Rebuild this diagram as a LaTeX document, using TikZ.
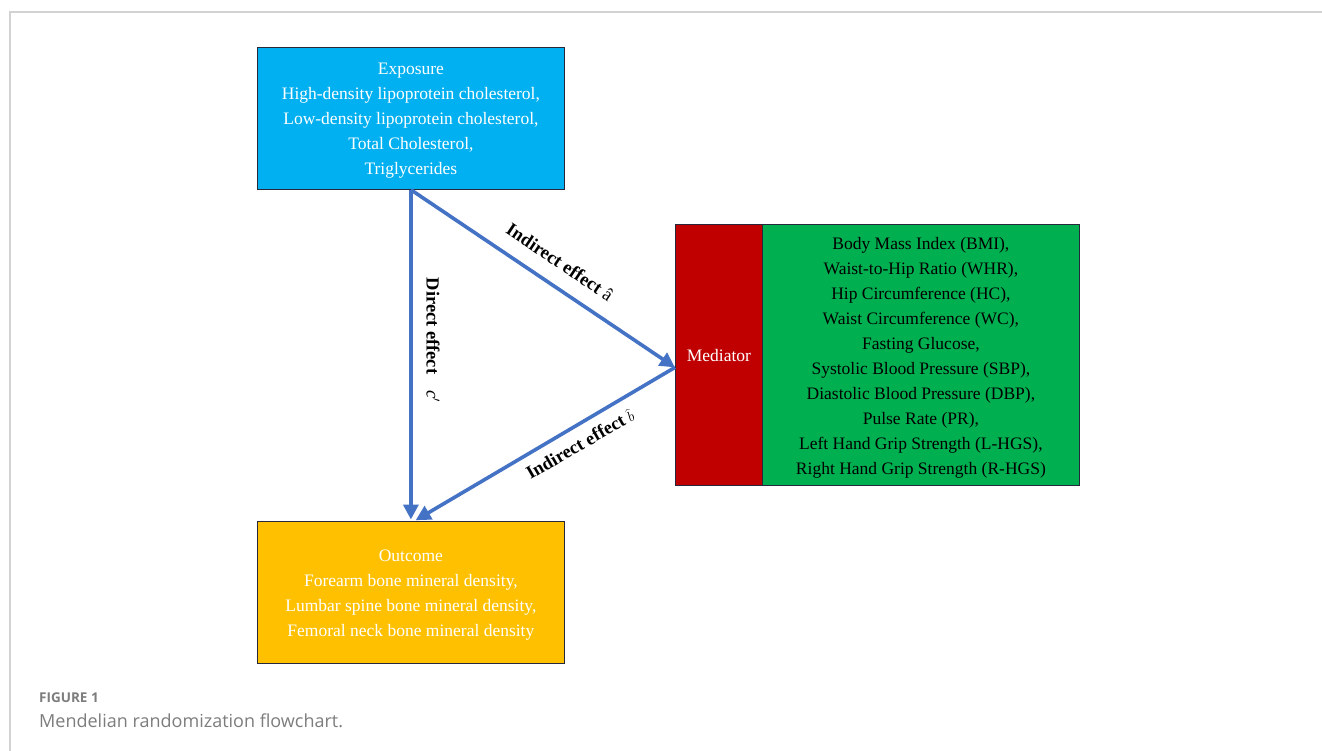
\documentclass[tikz,border=0pt]{standalone}
\usepackage{fontspec}
\setmainfont{Liberation Serif}
\newfontfamily\capfont{Open Sans}
\usetikzlibrary{arrows.meta}
\definecolor{expblue}{RGB}{0,176,240}
\definecolor{outyellow}{RGB}{255,192,0}
\definecolor{medred}{RGB}{192,0,0}
\definecolor{medgreen}{RGB}{0,176,80}
\definecolor{arrowblue}{RGB}{68,114,196}
\definecolor{framegray}{RGB}{210,210,210}
\definecolor{capgray}{RGB}{125,125,125}
\definecolor{boxline}{RGB}{40,40,60}
\begin{document}
\begin{tikzpicture}[x=1pt,y=-1pt,
  box/.style={draw=boxline,line width=0.8pt,inner sep=0pt,anchor=north west},
  boxtext/.style={inner sep=0pt,align=center,font=\fontsize{17.5}{25}\selectfont},
  conn/.style={draw=arrowblue,line width=3.6pt,-{Triangle[length=15pt,width=15pt]}},
  lbl/.style={font=\bfseries\fontsize{18.5}{22}\selectfont,inner sep=0pt}]
\useasboundingbox (0,0) rectangle (1322,751);
\fill[white] (0,0) rectangle (1322,751);
% frame
\draw[framegray,line width=1.2pt] (1322,12) -- (10,12) -- (10,751);
% boxes
\node[box,fill=expblue,minimum width=307pt,minimum height=142pt] (exp) at (257,47) {};
\node[box,fill=outyellow,minimum width=307pt,minimum height=142pt] (out) at (257,521) {};
\node[box,fill=medred,minimum width=87pt,minimum height=261pt] (med) at (675,224) {};
\node[box,fill=medgreen,minimum width=317pt,minimum height=261pt] (grn) at (762,224) {};
% box texts
\node[boxtext,text=white] (expt) at ([yshift=-2.5pt]exp.center)
 {Exposure\\High-density lipoprotein cholesterol,\\Low-density lipoprotein cholesterol,\\Total Cholesterol,\\Triglycerides};
\node[boxtext,text=white] (outt) at ([yshift=-2.5pt]out.center)
 {Outcome\\Forearm bone mineral density,\\ Lumbar spine bone mineral density,\\Femoral neck bone mineral density};
\node[boxtext,text=white] (medt) at ([yshift=-1pt]med.center) {Mediator};
\node[boxtext,text=black] (grnt) at ([yshift=-2.5pt]grn.center)
 {Body Mass Index (BMI),\\Waist-to-Hip Ratio (WHR),\\Hip Circumference (HC),\\Waist Circumference (WC),\\Fasting Glucose,\\Systolic Blood Pressure (SBP),\\Diastolic Blood Pressure (DBP),\\Pulse Rate (PR),\\Left Hand Grip Strength (L-HGS),\\Right Hand Grip Strength (R-HGS)};
% connectors
\coordinate (medin) at ([yshift=-12.5pt]med.west);
\coordinate (outin) at ([xshift=3.5pt]out.north);
\draw[conn,shorten >=1.5pt] (exp.south) -- (out.north);
\draw[conn] (exp.south) -- (medin);
\draw[conn,shorten >=1.5pt] (medin) -- (outin);
% labels
\node[lbl,rotate=-90] (ldir) at (433,340) {Direct effect\hspace{16pt}\normalfont\itshape c$'$};
\node[lbl,rotate=-33.9] (la) at (560,262) {Indirect effect {\normalfont â}};
\node[lbl,rotate=30] (lb) at (580,444) {Indirect effect {\normalfont\Large$\widehat{b}$}};
% caption
\node[anchor=west,inner sep=0pt,text=capgray,font=\capfont\bfseries\fontsize{13.5}{16}\selectfont] (fig) at (39,698) {FIGURE 1};
\node[anchor=west,inner sep=0pt,text=capgray,font=\capfont\fontsize{18}{21}\selectfont] (cap) at (39,721) {Mendelian randomization flowchart.};
\end{tikzpicture}
\end{document}
